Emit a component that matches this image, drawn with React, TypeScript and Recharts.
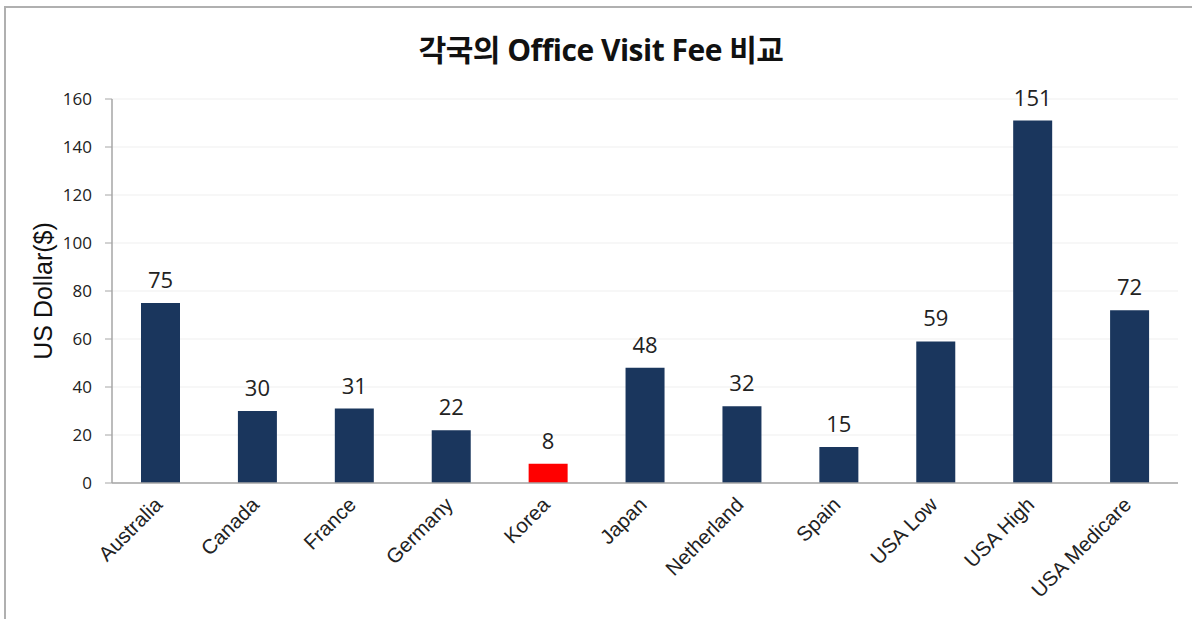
import { BarChart, Bar, XAxis, YAxis, CartesianGrid, LabelList, Cell } from "recharts";

const countries = [
  "Australia",
  "Canada",
  "France",
  "Germany",
  "Korea",
  "Japan",
  "Netherland",
  "Spain",
  "USA Low",
  "USA High",
  "USA Medicare",
];
const fees = [75, 30, 31, 22, 8, 48, 32, 15, 59, 151, 72];
const yTicks = [0, 20, 40, 60, 80, 100, 120, 140, 160];
const highlight = "Korea";

const data = countries.map((name, i) => ({ name, fee: fees[i] }));

const XTick = (props: any) => {
  const { x, y, payload } = props;
  return (
    <g transform={`translate(${x + 3},${y + 15})`}>
      <text
        transform="rotate(-45)"
        textAnchor="end"
        fontFamily="Liberation Sans, Arial, sans-serif"
        fontSize={20.5}
        fill="#222"
      >
        {payload.value}
      </text>
    </g>
  );
};

const App = () => {
  return (
    <div style={{ position: "fixed", left: 0, top: 0, width: 1192, height: 619, background: "#fff" }}>
      <div
        style={{
          position: "absolute",
          left: 4,
          top: 6,
          right: -4,
          bottom: -4,
          borderTop: "2px solid #b0b0b0",
          borderLeft: "2px solid #b0b0b0",
        }}
      />
      <div
        style={{
          position: "absolute",
          left: 0,
          top: 30,
          width: 1202,
          textAlign: "center",
          fontFamily: "'Open Sans', 'Noto Sans CJK KR', sans-serif",
          fontWeight: 700,
          fontSize: 30,
          lineHeight: "40px",
          color: "#111",
          letterSpacing: -0.5,
        }}
      >
        각국의 Office Visit Fee 비교
      </div>
      <div style={{ position: "absolute", left: 0, top: 0 }}>
        <BarChart
          width={1192}
          height={619}
          data={data}
          margin={{ top: 99, right: 14, bottom: 0, left: 0 }}
          barSize={39}
        >
          <CartesianGrid vertical={false} stroke="#efefef" />
          <XAxis
            dataKey="name"
            interval={0}
            height={136}
            tick={<XTick />}
            tickLine={false}
            axisLine={{ stroke: "#a6a6a6", strokeWidth: 1.5 }}
          />
          <YAxis
            width={112}
            domain={[0, 160]}
            ticks={yTicks}
            interval={0}
            tick={{ fontFamily: "'Open Sans', sans-serif", fontSize: 17, fill: "#222" }}
            tickLine={{ stroke: "#a6a6a6" }}
            tickSize={7}
            tickMargin={13}
            axisLine={{ stroke: "#a6a6a6", strokeWidth: 1.5 }}
            label={{
              value: "US Dollar($)",
              angle: -90,
              position: "insideLeft",
              dx: 38,
              style: {
                fontFamily: "Liberation Sans, Arial, sans-serif",
                fontSize: 25,
                fill: "#111",
                textAnchor: "middle",
              },
            }}
          />
          <Bar dataKey="fee" isAnimationActive={false}>
            {data.map((d) => (
              <Cell key={d.name} fill={d.name === highlight ? "#ff0000" : "#1a365d"} />
            ))}
            <LabelList
              dataKey="fee"
              position="top"
              offset={15}
              style={{ fontFamily: "'Open Sans', sans-serif", fontSize: 22, fill: "#222" }}
            />
          </Bar>
        </BarChart>
      </div>
    </div>
  );
};

export default App;
